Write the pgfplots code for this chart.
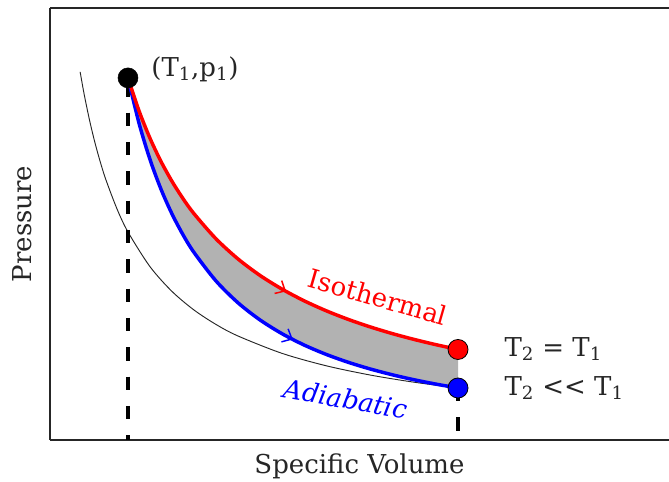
\documentclass[border=0pt]{standalone}
\usepackage{fontspec}
\setmainfont{DejaVu Serif}
\usepackage{pgfplots}
\pgfplotsset{compat=1.18}
\usetikzlibrary{calc,decorations.markings,arrows.meta}

\begin{document}
\begin{tikzpicture}
\begin{axis}[
  width=464.25pt, height=324pt, scale only axis,
  xmin=0.291, xmax=5.918, ymin=0, ymax=1.193,
  axis lines=left,
  axis line style={-, line width=1.3pt, black!85},
  xtick=\empty, ytick=\empty,
  clip=false,
  font=\fontsize{19.5}{23}\selectfont,
  xlabel={Specific Volume}, ylabel={Pressure},
  xlabel style={at={(axis description cs:0.5,0)}, anchor=center, yshift=-19.5pt, text=black!85},
  ylabel style={at={(axis description cs:-0.0452,0.5)}, anchor=center, text=black!85},
]
% shaded region between isothermal and adiabatic
\addplot[fill=black!30, draw=none] coordinates {
 (1.0,1.0) (1.1,0.9091) (1.2,0.8333) (1.3,0.7692) (1.4,0.7143) (1.5,0.6667)
 (1.6,0.625) (1.8,0.5556) (2.0,0.5) (2.2,0.4545) (2.4,0.4167) (2.6,0.3846)
 (2.8,0.3571) (3.0,0.3333) (3.2,0.3125) (3.4,0.2941) (3.6,0.2778) (3.8,0.2632) (4.0,0.25)
 (4.0,0.1436) (3.8,0.1543) (3.6,0.1664) (3.4,0.1803) (3.2,0.1963) (3.0,0.2148)
 (2.8,0.2366) (2.6,0.2624) (2.4,0.2936) (2.2,0.3316) (2.0,0.3789) (1.8,0.4392)
 (1.6,0.5179) (1.5,0.5668) (1.4,0.6243) (1.3,0.6926) (1.2,0.7747) (1.1,0.8751) (1.0,1.0)
} -- cycle;
% thin reference curve (isotherm through final adiabatic state)
\addplot[black!85, line width=0.7pt, smooth] coordinates {
 (0.565,1.0166) (0.6,0.9573) (0.65,0.8837) (0.7,0.8206) (0.75,0.7659) (0.8,0.718)
 (0.9,0.6382) (1.0,0.5744) (1.2,0.4787) (1.4,0.4103) (1.6,0.359) (1.8,0.3191)
 (2.0,0.2872) (2.4,0.2393) (2.8,0.2051) (3.2,0.1795) (3.6,0.1596) (4.0,0.1436)
};
% dashed verticals
\addplot[black, line width=2.8pt, dash pattern=on 10pt off 12pt] coordinates {(1,0.985) (1,0)};
\addplot[black, line width=2.8pt, dash pattern=on 10pt off 12pt] coordinates {(4,0.1436) (4,0)};
% adiabatic
\addplot[blue, line width=2.6pt, smooth,
  postaction={decorate}, decoration={markings, mark=at position 0.65 with {\arrow[blue]{Straight Barb[length=6pt, width=11pt, line width=1.1pt]}}}]
  coordinates {
 (1.0,1.0) (1.1,0.8751) (1.2,0.7747) (1.3,0.6926) (1.4,0.6243) (1.5,0.5668) (1.6,0.5179)
 (1.8,0.4392) (2.0,0.3789) (2.2,0.3316) (2.4,0.2936) (2.6,0.2624) (2.8,0.2366)
 (3.0,0.2148) (3.2,0.1963) (3.4,0.1803) (3.6,0.1664) (3.8,0.1543) (4.0,0.1436)
};
% isothermal
\addplot[red, line width=2.6pt, smooth,
  postaction={decorate}, decoration={markings, mark=at position 0.6 with {\arrow[red]{Straight Barb[length=6pt, width=11pt, line width=1.1pt]}}}]
  coordinates {
 (1.0,1.0) (1.1,0.9091) (1.2,0.8333) (1.3,0.7692) (1.4,0.7143) (1.5,0.6667)
 (1.6,0.625) (1.8,0.5556) (2.0,0.5) (2.2,0.4545) (2.4,0.4167) (2.6,0.3846)
 (2.8,0.3571) (3.0,0.3333) (3.2,0.3125) (3.4,0.2941) (3.6,0.2778) (3.8,0.2632) (4.0,0.25)
};
% state points
\addplot[only marks, mark=*, mark size=7.5pt, mark options={fill=black, draw=black}] coordinates {(1,1)};
\addplot[only marks, mark=*, mark size=7.5pt, mark options={fill=red, draw=black, line width=0.6pt}] coordinates {(4,0.25)};
\addplot[only marks, mark=*, mark size=7.5pt, mark options={fill=blue, draw=black, line width=0.6pt}] coordinates {(4,0.1436)};
% labels
\node[anchor=west, text=black!85] at (axis cs:1.17,1.025) {(T\textsubscript{1},p\textsubscript{1})};
\node[red, rotate=-16] at (axis cs:3.273,0.395) {Isothermal};
\node[blue, rotate=-10, font=\fontsize{19.5}{23}\selectfont\itshape] at (axis cs:2.98,0.114) {Adiabatic};
\node[anchor=west, text=black!85] at (axis cs:4.38,0.251) {T\textsubscript{2} = T\textsubscript{1}};
\node[anchor=west, text=black!85] at (axis cs:4.38,0.1436) {T\textsubscript{2} {<}{<} T\textsubscript{1}};
\end{axis}
\draw[line width=1.3pt, black!85] (current axis.north west) -- (current axis.north east);
\pgfresetboundingbox
\path ($(current axis.south west)+(-37.5pt,-31.5pt)$) rectangle ($(current axis.north east)+(0pt,6pt)$);
\end{tikzpicture}
\end{document}
